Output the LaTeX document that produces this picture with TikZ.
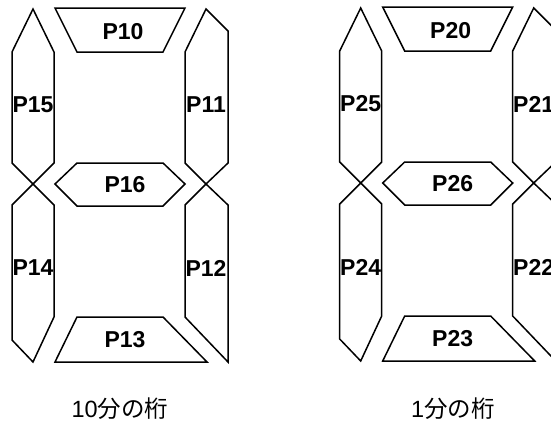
\documentclass[tikz,border=0pt]{standalone}
\usepackage{fontspec}
\setmainfont{Liberation Sans}
\newfontfamily\cjk{Noto Sans CJK JP}
\tikzset{%
    seg/.style={draw, line width=1.5pt},
    seglabel/.style={font=\bfseries\fontsize{23}{25}\selectfont, inner sep=0pt},
    caption/.style={font=\fontsize{23.5}{26}\selectfont, inner sep=0pt}
}

\begin{document}
\begin{tikzpicture}[x=1pt,y=-1pt]
  \useasboundingbox (0,0) rectangle (551,426);

  \foreach \d/\dx/\dy in {1/0/0, 2/327.7/-1} {
    \begin{scope}[shift={(\dx,\dy)}]
      % bars
      \draw[seg] (55,8) -- (185,8) -- (163,52) -- (77,52) -- cycle;
      \draw[seg] (55,184) -- (77,163) -- (163,163) -- (185,184) -- (163,206) -- (77,206) -- cycle;
      \draw[seg] (77,317) -- (163,317) -- (207,362) -- (55,362) -- cycle;
      % left side
      \draw[seg] (33,9) -- (54,52) -- (54,163) -- (33,184) -- (12,163) -- (12,52) -- cycle;
      \draw[seg] (33,184) -- (54,205) -- (54,317) -- (33,362) -- (12,340) -- (12,205) -- cycle;
      % right side
      \draw[seg] (206,9) -- (228,31) -- (228,163) -- (206,184) -- (185,163) -- (185,52) -- cycle;
      \draw[seg] (206,184) -- (228,205) -- (228,362) -- (185,317) -- (185,205) -- cycle;

      \node[seglabel] (p\d0) at (123,32) {P\d0};
      \node[seglabel] (p\d1) at (206,105) {P\d1};
      \node[seglabel] (p\d2) at (206,268) {P\d2};
      \node[seglabel] (p\d3) at (125,340) {P\d3};
      \node[seglabel] (p\d4) at (33,268) {P\d4};
      \node[seglabel] (p\d5) at (33,105) {P\d5};
      \node[seglabel] (p\d6) at (125,185) {P\d6};
    \end{scope}
  }

  \node[caption] (cap10) at (120,409) {10{\cjk 分の桁}};
  \node[caption] (cap1) at (453,409) {1{\cjk 分の桁}};
\end{tikzpicture}
\end{document}
